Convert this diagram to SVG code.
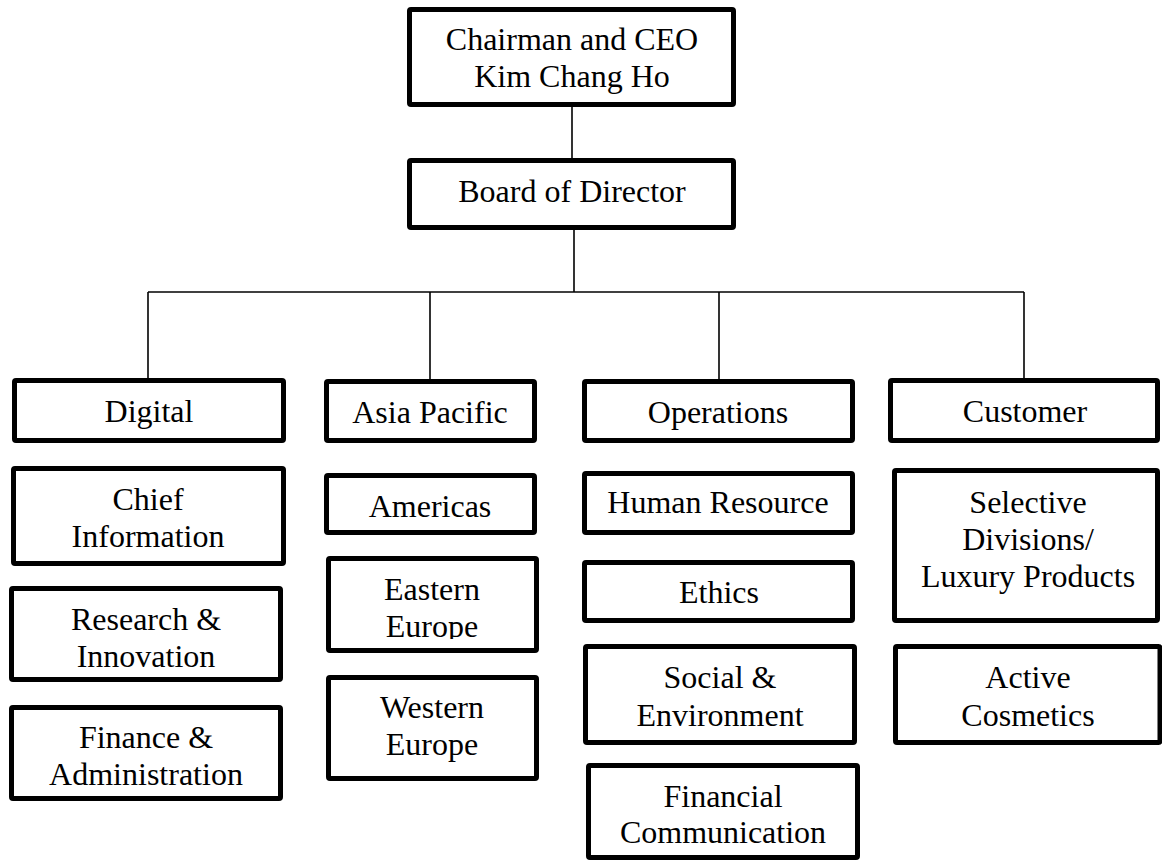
<svg xmlns="http://www.w3.org/2000/svg" width="1162" height="863" viewBox="0 0 1162 863">
  <style>
    .box { fill: #ffffff; stroke: #000000; stroke-width: 5; }
    .lbl { font-family: "Liberation Serif", "Times New Roman", serif; font-size: 32px; fill: #000000; text-anchor: middle; }
    .conn { stroke: #000000; stroke-width: 1.6; fill: none; }
  </style>
  <defs>
    <clipPath id="clipEastern">
      <rect x="326" y="556" width="213" height="83"/>
    </clipPath>
  </defs>
  <rect width="1162" height="863" fill="#ffffff"/>

  <!-- connectors -->
  <g id="connectors">
    <line class="conn" x1="572" y1="107" x2="572" y2="158"/>
    <line class="conn" x1="574" y1="230" x2="574" y2="292"/>
    <line class="conn" x1="148" y1="292" x2="1024" y2="292"/>
    <line class="conn" x1="148" y1="292" x2="148" y2="378"/>
    <line class="conn" x1="430" y1="292" x2="430" y2="379"/>
    <line class="conn" x1="719" y1="292" x2="719" y2="379"/>
    <line class="conn" x1="1024" y1="292" x2="1024" y2="378"/>
  </g>

  <!-- top level -->
  <g id="ceo">
    <rect class="box" x="409.5" y="9.5" width="324" height="95" rx="1.5"/>
    <text class="lbl" x="572" y="50">Chairman and CEO</text>
    <text class="lbl" x="572" y="87">Kim Chang Ho</text>
  </g>
  <g id="board">
    <rect class="box" x="409.5" y="160.5" width="324" height="67" rx="1.5"/>
    <text class="lbl" x="572" y="202">Board of Director</text>
  </g>

  <!-- divisions -->
  <g id="digital">
    <rect class="box" x="14.5" y="380.5" width="269" height="60" rx="1.5"/>
    <text class="lbl" x="149" y="422">Digital</text>
  </g>
  <g id="asia-pacific">
    <rect class="box" x="326.5" y="381.5" width="208" height="59" rx="1.5"/>
    <text class="lbl" x="430" y="423">Asia Pacific</text>
  </g>
  <g id="operations">
    <rect class="box" x="584.5" y="381.5" width="268" height="59" rx="1.5"/>
    <text class="lbl" x="718" y="423">Operations</text>
  </g>
  <g id="customer">
    <rect class="box" x="890.5" y="380.5" width="267" height="60" rx="1.5"/>
    <text class="lbl" x="1025" y="422">Customer</text>
  </g>

  <!-- Digital column -->
  <g id="chief-information">
    <rect class="box" x="13.5" y="468.5" width="270" height="95" rx="1.5"/>
    <text class="lbl" x="148" y="510">Chief</text>
    <text class="lbl" x="148" y="547">Information</text>
  </g>
  <g id="research-innovation">
    <rect class="box" x="11.5" y="588.5" width="269" height="91" rx="1.5"/>
    <text class="lbl" x="146" y="630">Research &amp;</text>
    <text class="lbl" x="146" y="667">Innovation</text>
  </g>
  <g id="finance-administration">
    <rect class="box" x="11.5" y="707.5" width="269" height="91" rx="1.5"/>
    <text class="lbl" x="146" y="748">Finance &amp;</text>
    <text class="lbl" x="146" y="785">Administration</text>
  </g>

  <!-- Asia Pacific column -->
  <g id="americas">
    <rect class="box" x="326.5" y="475.5" width="208" height="57" rx="1.5"/>
    <text class="lbl" x="430" y="517">Americas</text>
  </g>
  <g id="eastern-europe">
    <rect class="box" x="328.5" y="558.5" width="208" height="92" rx="1.5"/>
    <g clip-path="url(#clipEastern)">
      <text class="lbl" x="432" y="600">Eastern</text>
      <text class="lbl" x="432" y="637">Europe</text>
    </g>
  </g>
  <g id="western-europe">
    <rect class="box" x="328.5" y="677.5" width="208" height="101" rx="1.5"/>
    <text class="lbl" x="432" y="718">Western</text>
    <text class="lbl" x="432" y="755">Europe</text>
  </g>

  <!-- Operations column -->
  <g id="human-resource">
    <rect class="box" x="584.5" y="473.5" width="268" height="59" rx="1.5"/>
    <text class="lbl" x="718" y="513">Human Resource</text>
  </g>
  <g id="ethics">
    <rect class="box" x="584.5" y="562.5" width="268" height="58" rx="1.5"/>
    <text class="lbl" x="719" y="603">Ethics</text>
  </g>
  <g id="social-environment">
    <rect class="box" x="585.5" y="646.5" width="269" height="96" rx="1.5"/>
    <text class="lbl" x="720" y="688">Social &amp;</text>
    <text class="lbl" x="720" y="726">Environment</text>
  </g>
  <g id="financial-communication">
    <rect class="box" x="588.5" y="765.5" width="269" height="92" rx="1.5"/>
    <text class="lbl" x="723" y="807">Financial</text>
    <text class="lbl" x="723" y="843">Communication</text>
  </g>

  <!-- Customer column -->
  <g id="selective-divisions">
    <rect class="box" x="894.5" y="470.5" width="263" height="150" rx="1.5"/>
    <text class="lbl" x="1028" y="513">Selective</text>
    <text class="lbl" x="1028" y="550">Divisions/</text>
    <text class="lbl" x="1028" y="587">Luxury Products</text>
  </g>
  <g id="active-cosmetics">
    <rect class="box" x="895.5" y="646.5" width="264.5" height="96" rx="1.5"/>
    <text class="lbl" x="1028" y="688">Active</text>
    <text class="lbl" x="1028" y="726">Cosmetics</text>
  </g>
</svg>
